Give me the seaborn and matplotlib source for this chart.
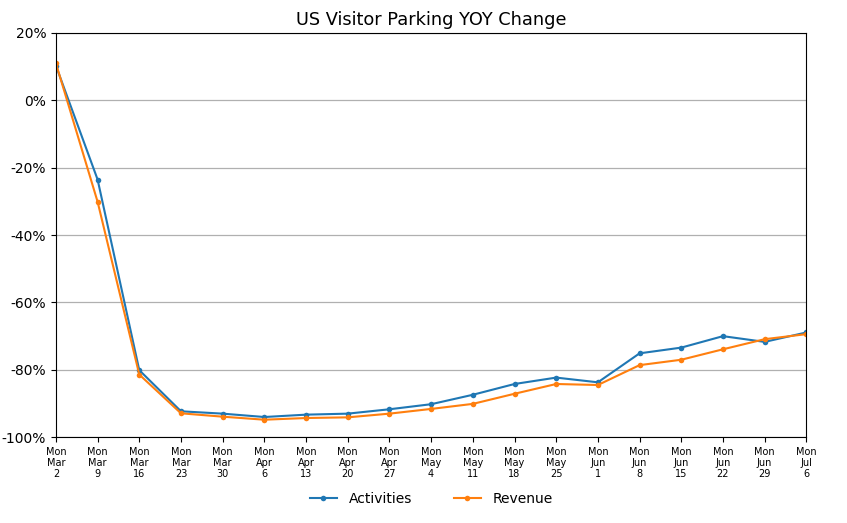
import matplotlib
matplotlib.use("Agg")
import matplotlib.pyplot as plt
import seaborn as sns
import pandas as pd
from matplotlib.ticker import FuncFormatter

weeks = ["Mon\nMar\n2", "Mon\nMar\n9", "Mon\nMar\n16", "Mon\nMar\n23", "Mon\nMar\n30",
         "Mon\nApr\n6", "Mon\nApr\n13", "Mon\nApr\n20", "Mon\nApr\n27", "Mon\nMay\n4",
         "Mon\nMay\n11", "Mon\nMay\n18", "Mon\nMay\n25", "Mon\nJun\n1", "Mon\nJun\n8",
         "Mon\nJun\n15", "Mon\nJun\n22", "Mon\nJun\n29", "Mon\nJul\n6"]
activities = [10.3, -23.5, -80.1, -92.3, -93.0, -94.0, -93.3, -93.0, -91.7, -90.2,
              -87.4, -84.2, -82.3, -83.7, -75.1, -73.4, -70.0, -71.7, -68.9]
revenue = [11.0, -30.1, -81.4, -92.9, -93.9, -94.8, -94.3, -94.1, -93.0, -91.6,
           -90.1, -87.1, -84.2, -84.5, -78.6, -77.0, -73.9, -70.9, -69.4]

idx = list(range(len(weeks)))
df = pd.DataFrame({
    "x": idx * 2,
    "value": activities + revenue,
    "series": ["Activities"] * len(weeks) + ["Revenue"] * len(weeks),
})

fig = plt.figure(figsize=(8.47, 5.23), dpi=100)
ax = fig.add_axes([0.066, 0.164, 0.886, 0.773])
sns.lineplot(data=df, x="x", y="value", hue="series",
             palette=["#1f77b4", "#ff7f0e"], marker="o", markersize=4,
             markeredgewidth=0, linewidth=1.5, ax=ax)

ax.set_xlim(0, len(weeks) - 1)
ax.set_ylim(-100, 20)
ax.set_xticks(idx)
ax.set_xticklabels(weeks, fontsize=7, linespacing=1.15)
ax.set_yticks(range(-100, 21, 20))
ax.yaxis.set_major_formatter(FuncFormatter(lambda v, p: f"{int(v)}%"))
ax.tick_params(axis="y", labelsize=10)
ax.yaxis.grid(True, color="#b0b0b0", linewidth=0.9)
ax.set_axisbelow(True)
ax.set_xlabel("")
ax.set_ylabel("")
ax.set_title("US Visitor Parking YOY Change", fontsize=12.8)
ax.legend(loc="upper center", bbox_to_anchor=(0.5, -0.105), ncol=2, frameon=False,
          fontsize=10, columnspacing=3)

fig.savefig("out.png", dpi=100)
